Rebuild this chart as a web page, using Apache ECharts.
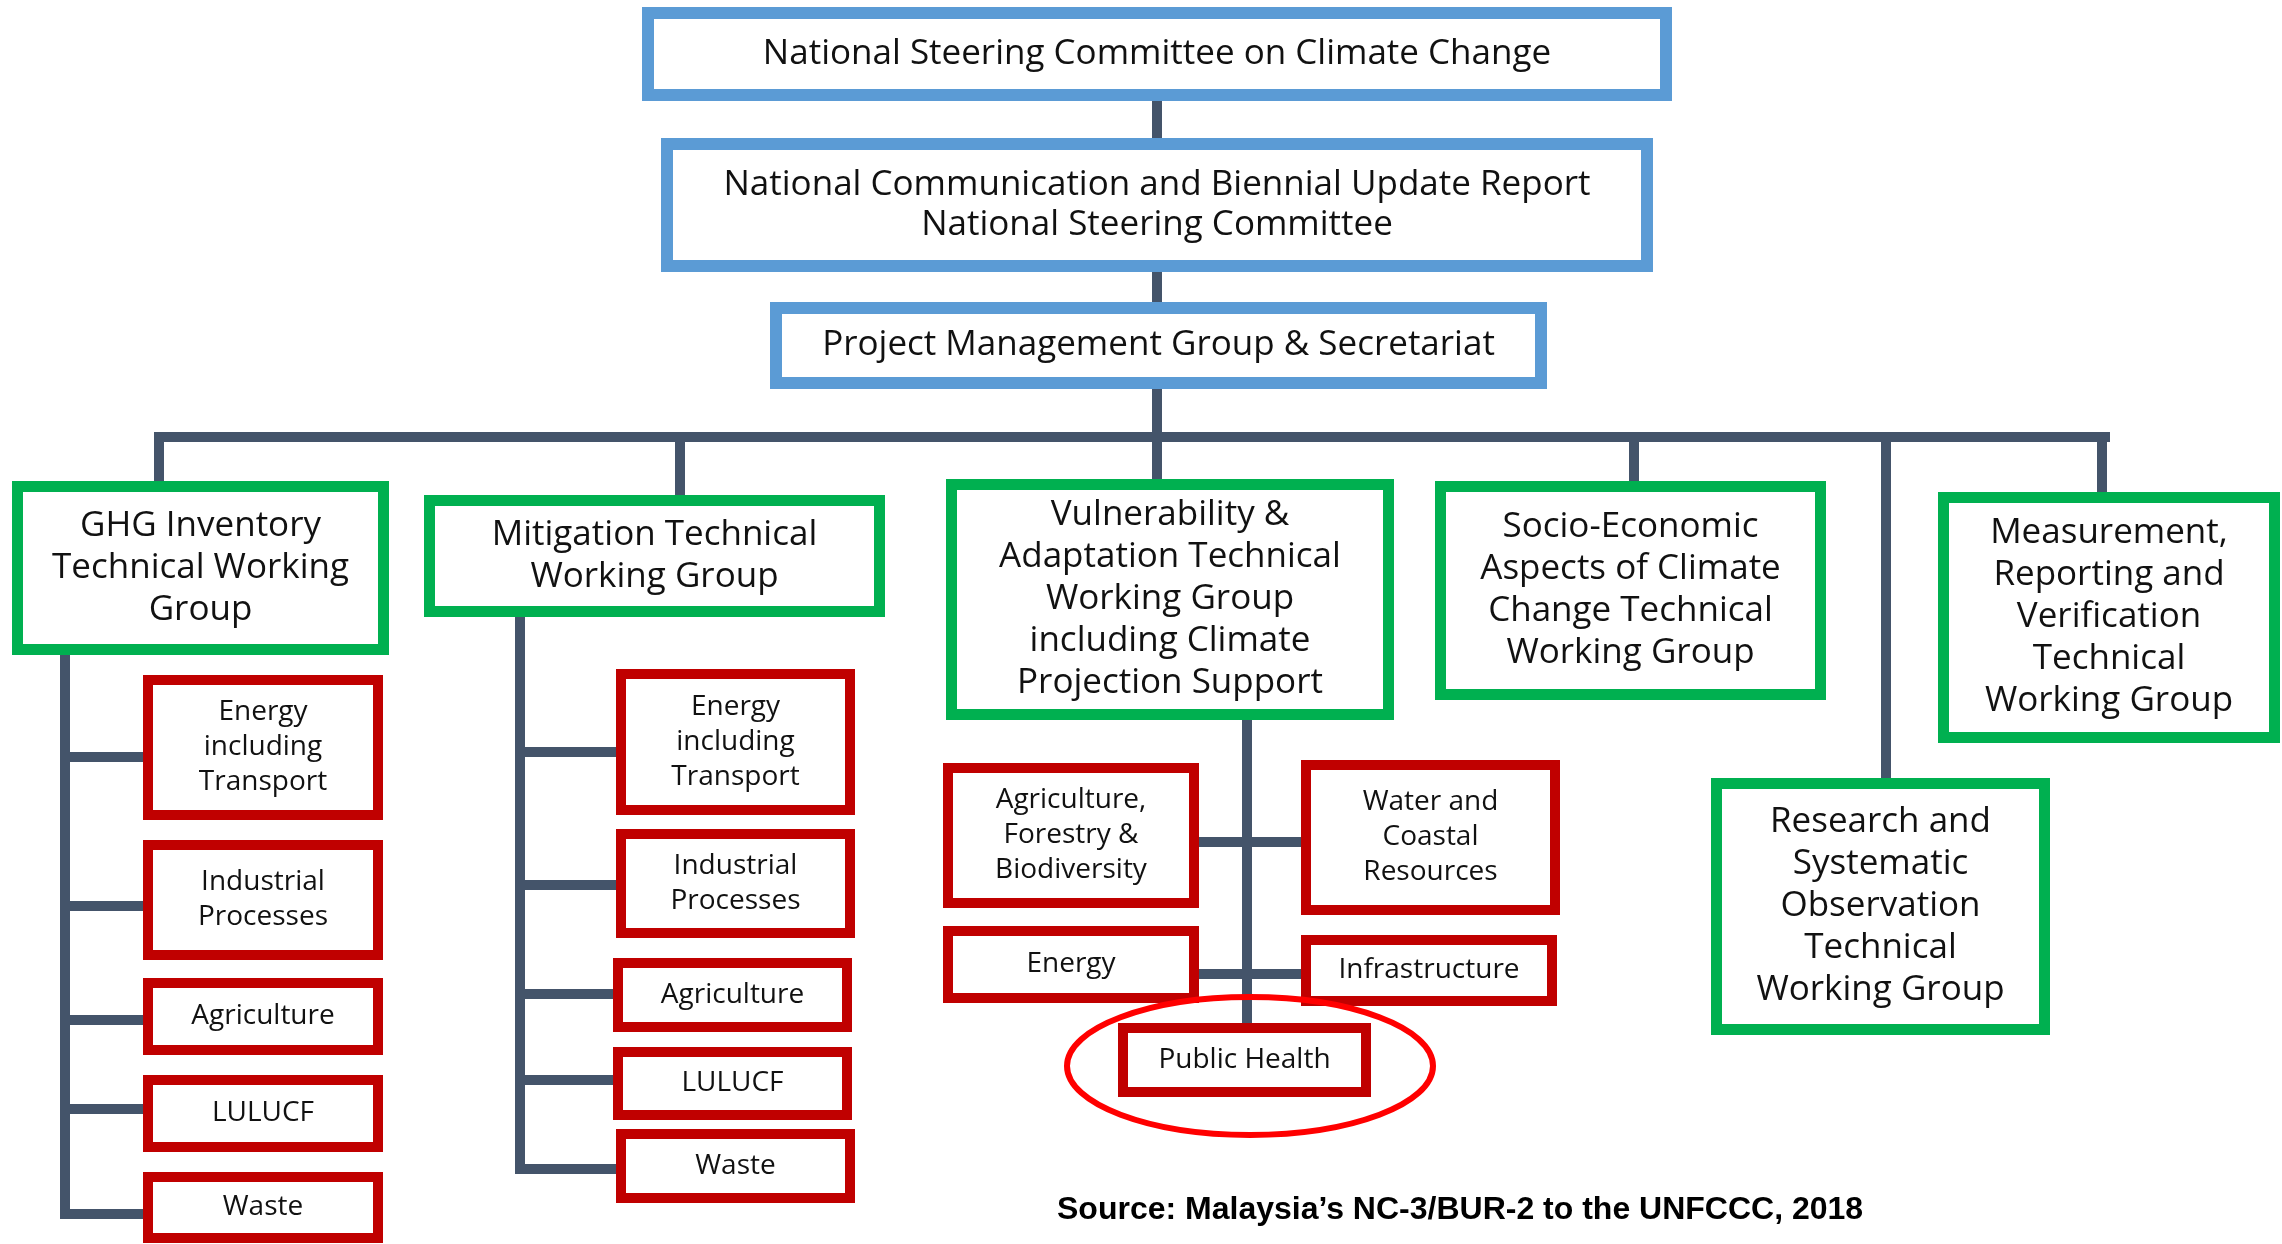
<!DOCTYPE html>
<html>
<head>
<meta charset="utf-8">
<title>NC/BUR institutional arrangement</title>
<script src="https://cdn.jsdelivr.net/npm/echarts@6/dist/echarts.min.js"></script>
<style>
html, body { margin: 0; padding: 0; background: #fff; }
#chart { width: 2282px; height: 1244px; }
</style>
</head>
<body>
<div id="chart"></div>
<script>
// committees (blue)
var committeeNames = [
	'National Steering Committee on Climate Change',
	'National Communication and Biennial Update Report\nNational Steering Committee',
	'Project Management Group & Secretariat'
];
var committeeBoxes = [[642, 7, 1672, 101], [661, 138, 1653, 272], [770, 302, 1547, 389]];

// technical working groups (green)
var groupNames = [
	'GHG Inventory\nTechnical Working\nGroup',
	'Mitigation Technical\nWorking Group',
	'Vulnerability &\nAdaptation Technical\nWorking Group\nincluding Climate\nProjection Support',
	'Socio-Economic\nAspects of Climate\nChange Technical\nWorking Group',
	'Measurement,\nReporting and\nVerification\nTechnical\nWorking Group',
	'Research and\nSystematic\nObservation\nTechnical\nWorking Group'
];
var groupBoxes = [
	[12, 481, 389, 655], [424, 495, 885, 617], [946, 479, 1394, 720],
	[1435, 481, 1826, 700], [1938, 492, 2280, 743], [1711, 778, 2050, 1035]
];

// sectors (red)
var sectorNames = [
	'Energy\nincluding\nTransport', 'Industrial\nProcesses', 'Agriculture', 'LULUCF', 'Waste',
	'Energy\nincluding\nTransport', 'Industrial\nProcesses', 'Agriculture', 'LULUCF', 'Waste',
	'Agriculture,\nForestry &\nBiodiversity', 'Water and\nCoastal\nResources', 'Energy', 'Infrastructure', 'Public Health'
];
var sectorBoxes = [
	[143, 675, 383, 820], [143, 840, 383, 960], [143, 978, 383, 1055], [143, 1075, 383, 1152], [143, 1172, 383, 1243],
	[616, 669, 855, 815], [616, 829, 855, 938], [613, 958, 852, 1032], [613, 1047, 852, 1120], [616, 1129, 855, 1203],
	[943, 763, 1199, 908], [1301, 760, 1560, 915], [943, 926, 1199, 1003], [1301, 935, 1557, 1006], [1118, 1023, 1371, 1097]
];

// connector segments [x1, y1, x2, y2]
var connectors = [
	[1157, 101, 1157, 138], [1157, 272, 1157, 302], [1157, 389, 1157, 437],
	[154, 437, 2110, 437],
	[159, 432, 159, 481], [680, 432, 680, 495], [1157, 432, 1157, 479],
	[1634, 432, 1634, 481], [1886, 432, 1886, 778], [2102, 432, 2102, 492],
	[65, 655, 65, 1219], [60, 757, 143, 757], [60, 906, 143, 906], [60, 1020, 143, 1020], [60, 1109, 143, 1109], [60, 1214, 143, 1214],
	[520, 617, 520, 1174], [515, 752, 616, 752], [515, 885, 616, 885], [515, 994, 613, 994], [515, 1080, 613, 1080], [515, 1169, 616, 1169],
	[1247, 720, 1247, 1023], [1199, 842, 1301, 842], [1199, 974, 1301, 974]
];

// highlight ring round Public Health [cx, cy, rx, ry]
var highlight = [[1250, 1066, 183, 69]];

var sourceNote = 'Source: Malaysia\u2019s NC-3/BUR-2 to the UNFCCC, 2018';

var chart = echarts.init(document.getElementById('chart'));

function boxRender(names, color, lw, fontSize, lineHeight) {
	return function(params, api) {
		var p0 = api.coord([api.value(0), api.value(1)]);
		var p1 = api.coord([api.value(2), api.value(3)]);
		var h = lw / 2;
		return {
			type: 'group',
			children: [{
				type: 'rect',
				shape: { x: p0[0] + h, y: p0[1] + h, width: p1[0] - p0[0] - lw, height: p1[1] - p0[1] - lw },
				style: { fill: '#fff', stroke: color, lineWidth: lw }
			}, {
				type: 'text',
				x: (p0[0] + p1[0]) / 2,
				y: (p0[1] + p1[1]) / 2,
				style: {
					text: names[params.dataIndex],
					fill: '#111',
					fontFamily: 'Open Sans',
					fontSize: fontSize,
					lineHeight: lineHeight,
					align: 'center',
					verticalAlign: 'middle'
				}
			}]
		};
	};
}

function boxSeries(names, boxes, color, lw, fontSize, lineHeight) {
	return {
		type: 'custom',
		clip: false,
		silent: true,
		encode: { x: [0, 2], y: [1, 3] },
		data: boxes,
		renderItem: boxRender(names, color, lw, fontSize, lineHeight)
	};
}

var option = {
	backgroundColor: '#fff',
	animation: false,
	title: {
		text: sourceNote,
		left: 1052,
		top: 1189,
		textStyle: { fontFamily: 'Liberation Sans', fontWeight: 'bold', fontSize: 32, color: '#000' }
	},
	grid: { left: 0, right: 0, top: 0, bottom: 0 },
	xAxis: { type: 'value', min: 0, max: 2282, show: false },
	yAxis: { type: 'value', min: 0, max: 1244, inverse: true, show: false },
	series: [{
		type: 'custom',
		clip: false,
		silent: true,
		encode: { x: [0, 2], y: [1, 3] },
		data: connectors,
		renderItem: function(params, api) {
			var a = api.coord([api.value(0), api.value(1)]);
			var b = api.coord([api.value(2), api.value(3)]);
			return {
				type: 'line',
				shape: { x1: a[0], y1: a[1], x2: b[0], y2: b[1] },
				style: { stroke: '#44546A', lineWidth: 10 }
			};
		}
	},
		boxSeries(committeeNames, committeeBoxes, '#5B9BD5', 12, 35, 40),
		boxSeries(groupNames, groupBoxes, '#00B050', 11, 35, 42),
		boxSeries(sectorNames, sectorBoxes, '#C00000', 10, 28, 35),
	{
		type: 'custom',
		clip: false,
		silent: true,
		encode: { x: 0, y: 1 },
		data: highlight,
		renderItem: function(params, api) {
			var c = api.coord([api.value(0), api.value(1)]);
			var e = api.coord([api.value(0) + api.value(2), api.value(1) + api.value(3)]);
			return {
				type: 'ellipse',
				shape: { cx: c[0], cy: c[1], rx: e[0] - c[0], ry: e[1] - c[1] },
				style: { fill: 'none', stroke: '#FF0000', lineWidth: 6 }
			};
		}
	}]
};
chart.setOption(option);
</script>
</body>
</html>
